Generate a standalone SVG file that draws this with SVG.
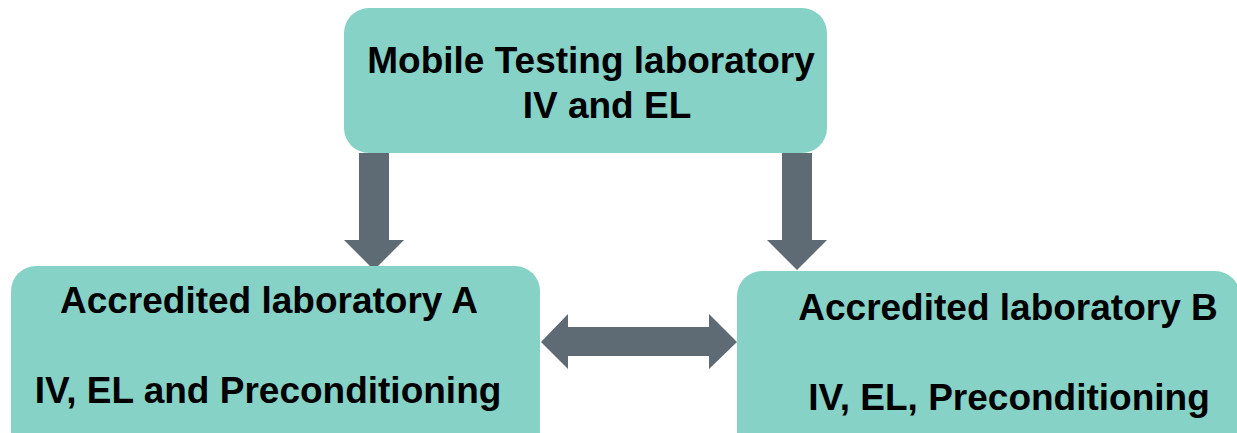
<svg xmlns="http://www.w3.org/2000/svg" width="1237" height="433" viewBox="0 0 1237 433">
<style>
.box{fill:#86D2C6}
.arr{fill:#5E6B74}
text{font-family:"Liberation Sans",Arial,sans-serif;font-weight:bold;font-size:37px;fill:#000;text-anchor:middle}
</style>
<rect width="1237" height="433" fill="#fff"/>
<g id="connectors">
<polygon class="arr" points="359,153 389,153 389,240 404,240 374,270 344,240 359,240"/>
<polygon class="arr" points="782,153 812,153 812,240 827,240 797,270 767,240 782,240"/>
<polygon class="arr" points="541,342 568,314 568,327 709,327 709,314 737,342 709,369 709,356 568,356 568,369"/>
</g>
<g id="mobile">
<rect class="box" x="344" y="8" width="483" height="145" rx="25"/>
<text x="591" y="73">Mobile Testing laboratory</text>
<text x="607" y="118">IV and EL</text>
</g>
<g id="labA">
<rect class="box" x="11" y="266" width="529" height="190" rx="25"/>
<text x="269" y="313">Accredited laboratory A</text>
<text x="268" y="403">IV, EL and Preconditioning</text>
</g>
<g id="labB">
<rect class="box" x="737" y="271" width="503" height="190" rx="25"/>
<text x="1008" y="320">Accredited laboratory B</text>
<text x="1009" y="410">IV, EL, Preconditioning</text>
</g>
</svg>
